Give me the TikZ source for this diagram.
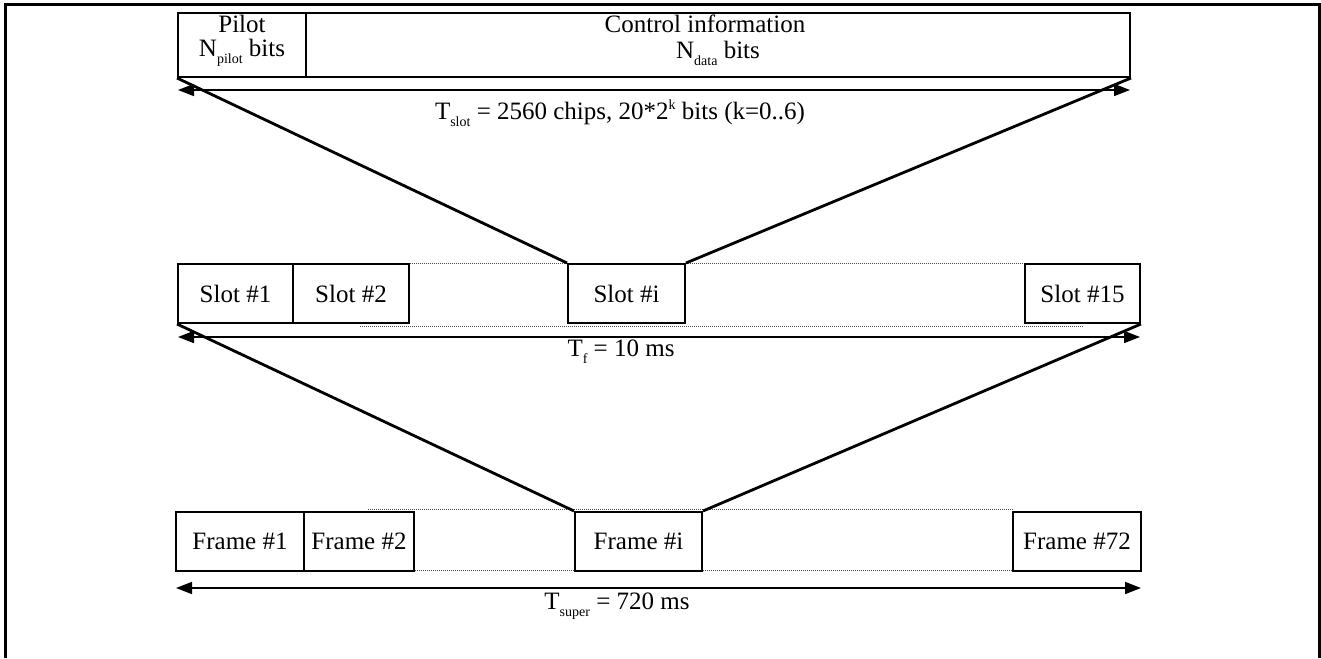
\documentclass[tikz,border=0pt]{standalone}
\usepackage{fontspec}
\setmainfont{Liberation Serif}
\usetikzlibrary{arrows.meta}
\newcommand{\lowsub}[1]{\raisebox{-0.28em}{\fontsize{14}{14}\selectfont #1}}
\newcommand{\hisup}[1]{\raisebox{0.42em}{\fontsize{14}{14}\selectfont #1}}
\begin{document}
\begin{tikzpicture}[x=1pt,y=-1pt,
  every node/.style={font=\fontsize{25}{29}\selectfont},
  cell/.style={draw,line width=2pt,inner sep=0pt,anchor=center},
  txt/.style={inner sep=0pt,anchor=center},
  span/.style={line width=1.7pt,{Triangle[length=16pt,width=12pt]}-{Triangle[length=16pt,width=12pt]}},
  fan/.style={line width=2.8pt},
  dots/.style={draw=gray!60!black,line width=1pt,dash pattern=on 1pt off 1pt},
  border/.style={line width=3pt}]
\useasboundingbox (0,0) rectangle (1321,658);
% outer border (open at the bottom)
\draw[border] (5,658) -- (5,5) -- (1319,5) -- (1319,658);

% ---------- slot structure ----------
\node[cell,minimum width=128pt,minimum height=64pt] (pilot) at (242,45) {};
\node[cell,minimum width=824pt,minimum height=64pt] (ctrl) at (718,45) {};
\node[txt] (pilott) at (242,24) {Pilot};
\node[txt] (pilotn) at (242,53) {N\lowsub{pilot} bits};
\node[txt] (ctrlt) at (705,24) {Control information};
\node[txt] (ctrln) at (718,53) {N\lowsub{data} bits};
\coordinate (a1l) at (178,90);
\coordinate (a1r) at (1130,90);
\draw[span] (a1l) -- (a1r);
\node[txt] (tslot) at (620,113) {T\lowsub{slot} = 2560 chips, 20*2\hisup{k} bits (k=0..6)};

% ---------- frame structure ----------
\coordinate (d2a) at (360,326);
\coordinate (d2b) at (1083,326);
\draw[dots] (d2a) -- (d2b);
\node[cell,minimum width=115pt,minimum height=59pt] (s1) at (235.5,293.5) {Slot \#1};
\node[cell,minimum width=116pt,minimum height=59pt] (s2) at (351,293.5) {Slot \#2};
\node[cell,minimum width=117pt,minimum height=59pt] (si) at (626.5,293.5) {Slot \#i};
\node[cell,minimum width=115pt,minimum height=59pt] (s15) at (1082.5,293.5) {Slot \#15};
\draw[dots] (s2.north east) -- (si.north west);
\draw[dots] (si.north east) -- (s15.north west);
\coordinate (a2l) at (178,337);
\coordinate (a2r) at (1140,337);
\draw[span] (a2l) -- (a2r);
\node[txt] (tf) at (621,352) {T\lowsub{f} = 10 ms};

\draw[fan] (pilot.south west) -- (si.north west);
\draw[fan] (ctrl.south east) -- (si.north east);

% ---------- super frame ----------
\coordinate (d3a) at (368,509);
\coordinate (d3b) at (1013,509);
\coordinate (d3c) at (357,570);
\coordinate (d3d) at (1013,570);
\draw[dots] (d3a) -- (d3b);
\draw[dots] (d3c) -- (d3d);
\node[cell,minimum width=128pt,minimum height=59pt] (f1) at (240,541.5) {Frame \#1};
\node[cell,minimum width=110pt,minimum height=59pt] (f2) at (359,541.5) {Frame \#2};
\node[cell,minimum width=127pt,minimum height=59pt] (fi) at (638.5,541.5) {Frame \#i};
\node[cell,minimum width=128pt,minimum height=59pt] (f72) at (1077,541.5) {Frame \#72};
\coordinate (a3l) at (176,588);
\coordinate (a3r) at (1141,588);
\draw[span] (a3l) -- (a3r);
\node[txt] (tsup) at (617,606) {T\lowsub{super} = 720 ms};

\draw[fan] (s1.south west) -- (fi.north west);
\draw[fan] (s15.south east) -- (fi.north east);
\end{tikzpicture}
\end{document}
